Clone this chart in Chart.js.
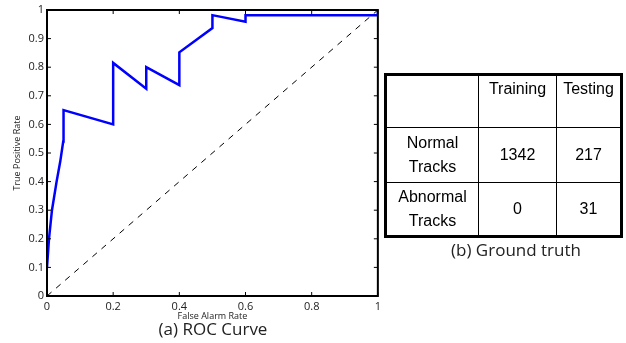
<!DOCTYPE html>
<html lang="en">
<head>
  <meta charset="UTF-8">
  <title>ROC Curve</title>
  <script src="https://cdn.jsdelivr.net/npm/chart.js"></script>
  <style>
    body { margin: 0; background: #fff; width: 626px; height: 343px; overflow: hidden; position: relative; }
    #wrap { position: absolute; left: 0; top: 0; width: 385px; height: 343px; }
    .cap { position: absolute; font-family: 'Open Sans', sans-serif; color: #222; white-space: nowrap; transform: translateX(-50%); }
    table { position: absolute; left: 384px; top: 73px; width: 239px; height: 162px; border-collapse: collapse; border: 3px solid #000;
            font-family: 'Liberation Sans', Arial, sans-serif; font-size: 16px; color: #000; }
    td { border: 1.5px solid #000; text-align: center; line-height: 24px; padding: 0; }
  </style>
</head>
<body>
  <div id="wrap"><canvas id="grafico" width="385" height="343"></canvas></div>
  <div class="cap" style="left:213px; top:317px; font-size:17px;">(a) ROC Curve</div>
  <table id="tabela"></table>
  <div class="cap" style="left:516px; top:238px; font-size:17px;">(b) Ground truth</div>

  <script>
    // ROC curve (false alarm rate vs true positive rate)
    const falsoAlarme = [0, 0.006, 0.015, 0.029, 0.04, 0.049, 0.05, 0.2, 0.2, 0.3, 0.3, 0.4, 0.4, 0.5, 0.5, 0.6, 0.6, 1, 1];
    const verdadeiroPos = [0.1, 0.2, 0.3, 0.4, 0.47, 0.54, 0.65, 0.6, 0.815, 0.725, 0.8, 0.737, 0.852, 0.937, 0.982, 0.959, 0.982, 0.982, 1];
    const xTicks = [0, 0.2, 0.4, 0.6, 0.8, 1];

    // tabela
    const colunas = ['', 'Training', 'Testing'];
    const linhas = ['Normal<br>Tracks', 'Abnormal<br>Tracks'];
    const treino = [1342, 0];
    const teste = [217, 31];

    const tabela = document.getElementById('tabela');
    let html = '<tr style="height:53px">' + colunas.map(c => `<td style="vertical-align:top;padding-top:1px">${c}</td>`).join('') + '</tr>';
    linhas.forEach((l, i) => {
      html += `<tr style="height:${i === 0 ? 55 : 54}px"><td style="width:91px">${l}</td><td style="width:77px">${treino[i]}</td><td>${teste[i]}</td></tr>`;
    });
    tabela.innerHTML = html;

    const curva = falsoAlarme.map((x, i) => ({ x: x, y: verdadeiroPos[i] }));

    // moldura com marcas para dentro (estilo Matlab)
    const moldura = {
      id: 'moldura',
      afterDatasetsDraw(chart) {
        const { ctx, chartArea: a, scales } = chart;
        ctx.save();
        ctx.strokeStyle = '#000';
        ctx.lineWidth = 1;
        ctx.beginPath();
        xTicks.forEach(v => {
          const px = scales.x.getPixelForValue(v);
          ctx.moveTo(px, a.bottom); ctx.lineTo(px, a.bottom - 4);
          ctx.moveTo(px, a.top); ctx.lineTo(px, a.top + 4);
        });
        for (let k = 0; k <= 10; k++) {
          const py = scales.y.getPixelForValue(k / 10);
          ctx.moveTo(a.left, py); ctx.lineTo(a.left + 4, py);
          ctx.moveTo(a.right, py); ctx.lineTo(a.right - 4, py);
        }
        ctx.stroke();
        ctx.lineWidth = 2;
        ctx.strokeRect(a.left, a.top, a.right - a.left, a.bottom - a.top);
        ctx.restore();
      }
    };

    const fonteTick = { family: 'Open Sans', size: 11 };
    const fonteTitulo = { family: 'Open Sans', size: 9 };

    new Chart(document.getElementById('grafico').getContext('2d'), {
      type: 'scatter',
      data: {
        datasets: [{
          data: curva,
          showLine: true,
          borderColor: '#0000ff',
          borderWidth: 2.5,
          pointRadius: 0,
          tension: 0
        }, {
          data: [{ x: 0, y: 0 }, { x: 1, y: 1 }],
          showLine: true,
          borderColor: '#000',
          borderWidth: 1,
          borderDash: [6, 6],
          pointRadius: 0
        }]
      },
      options: {
        responsive: false,
        animation: false,
        layout: { padding: { left: 12, top: 10, right: 7, bottom: 21 } },
        plugins: { legend: { display: false }, tooltip: { enabled: false } },
        scales: {
          x: {
            type: 'linear', min: 0, max: 1,
            afterBuildTicks: s => { s.ticks = xTicks.map(v => ({ value: v })); },
            afterFit: s => { s.height = 26; },
            grid: { display: false, drawTicks: false },
            border: { display: false },
            ticks: { font: fonteTick, color: '#222', padding: 4, maxRotation: 0, callback: v => String(v) },
            title: { display: true, text: 'False Alarm Rate', font: fonteTitulo, color: '#222', padding: 0 }
          },
          y: {
            min: 0, max: 1,
            afterFit: s => { s.width = 35; },
            grid: { display: false, drawTicks: false },
            border: { display: false },
            ticks: { stepSize: 0.1, font: fonteTick, color: '#222', padding: 3, callback: v => String(Math.round(v * 10) / 10) },
            title: { display: true, text: 'True Positive Rate', font: fonteTitulo, color: '#222', padding: 0 }
          }
        }
      },
      plugins: [moldura]
    });
  </script>
</body>
</html>
